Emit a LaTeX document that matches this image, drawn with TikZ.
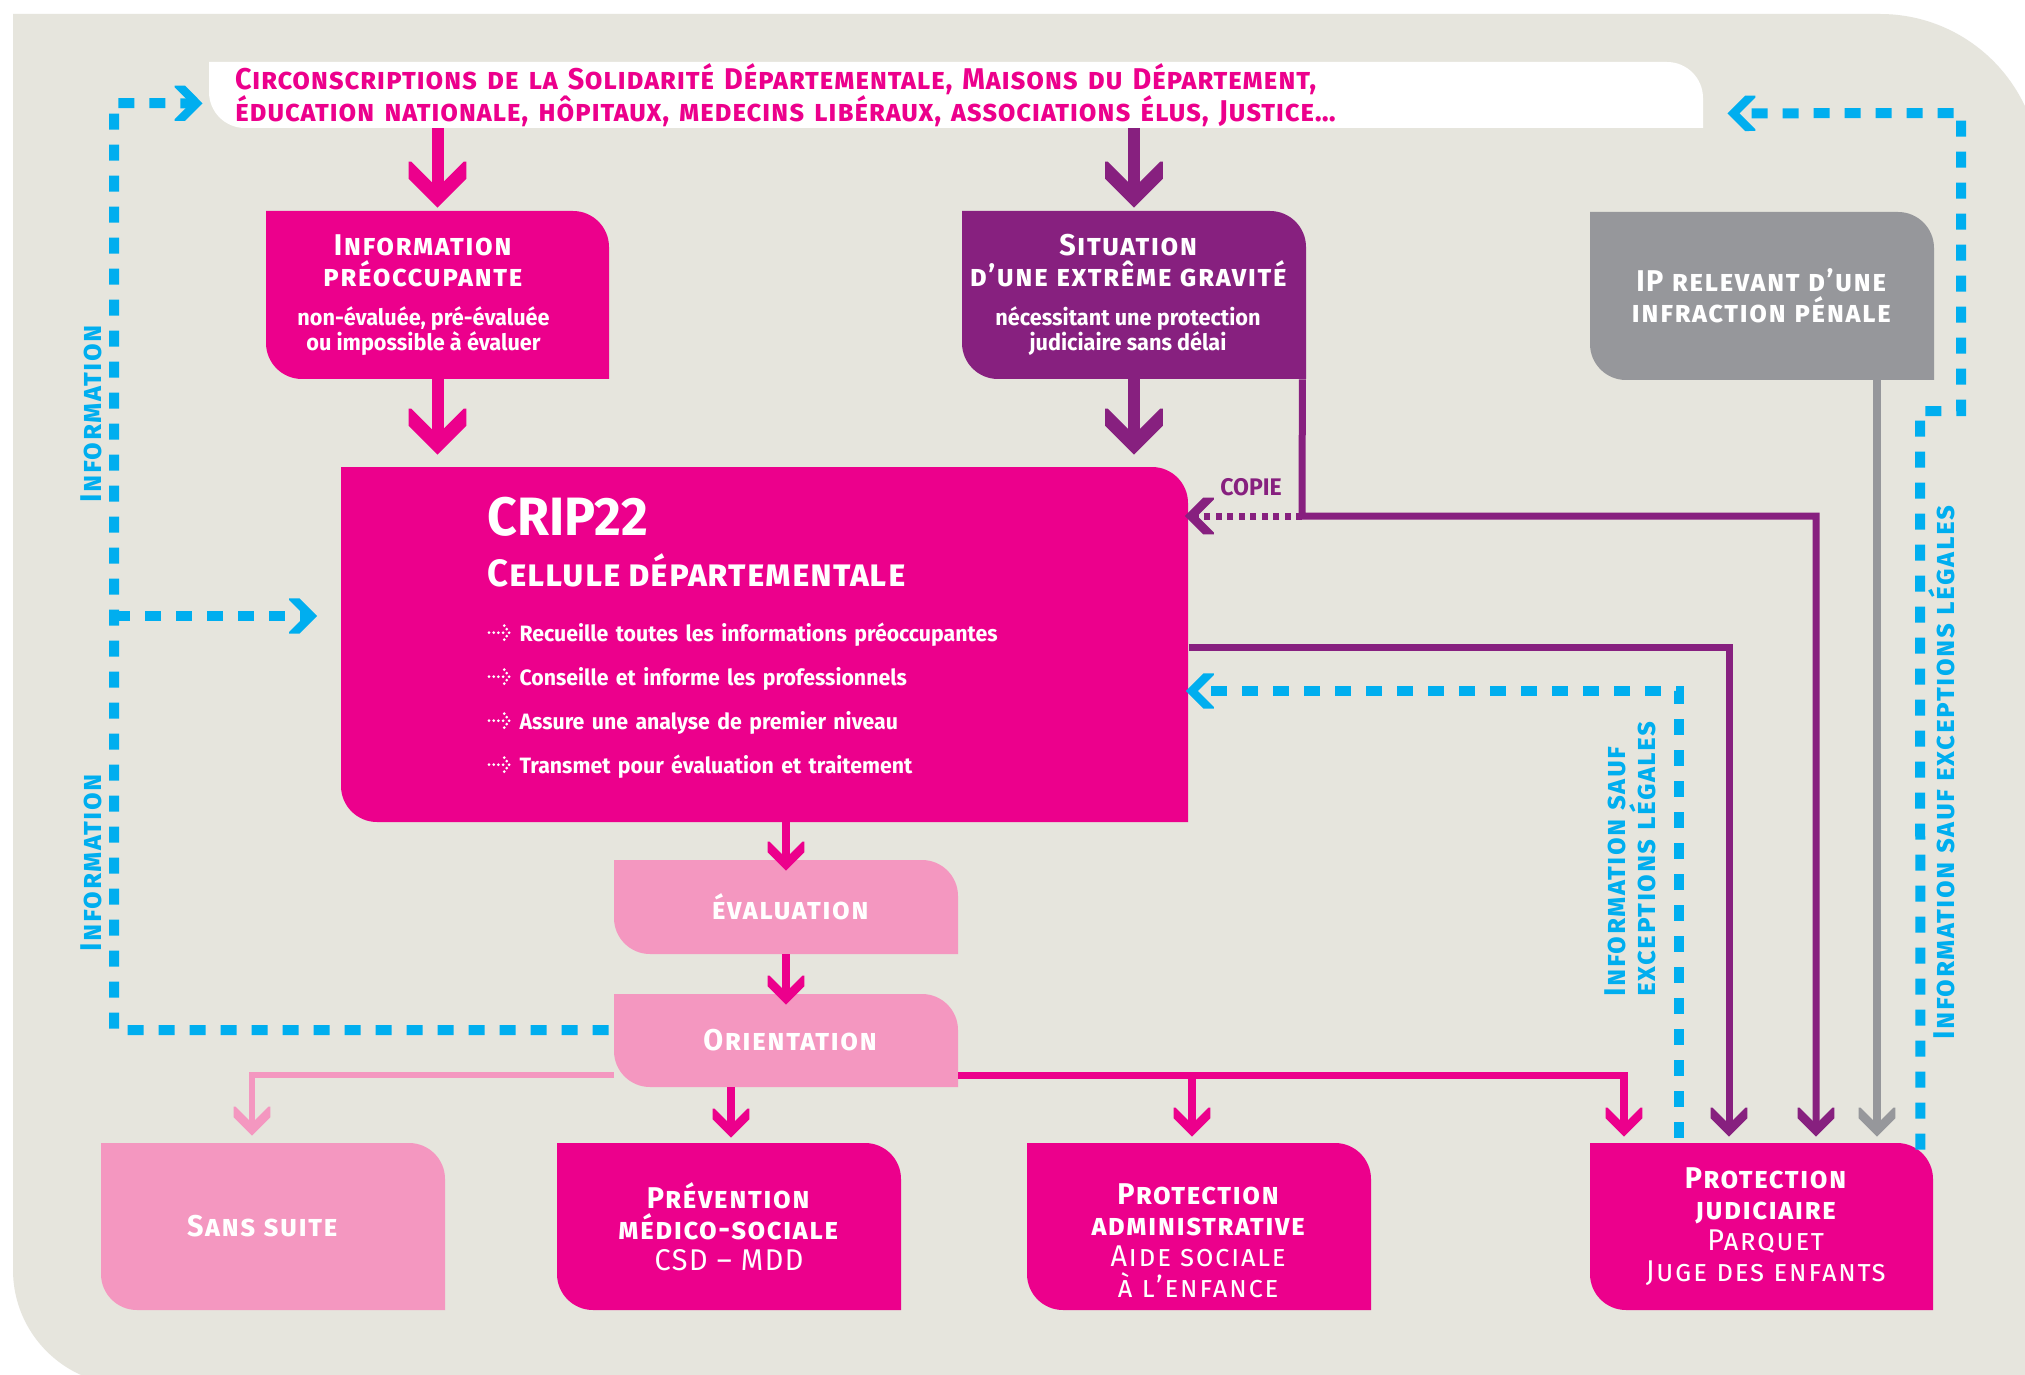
\documentclass[tikz,border=0pt]{standalone}
\usepackage{fontspec}
\setmainfont{Fira Sans}[FakeStretch=0.96]
\newfontfamily\tfont{Fira Sans}[FakeStretch=0.96,LetterSpace=5]
\newfontfamily\bfont{Fira Sans}[FakeStretch=0.96,LetterSpace=2.5]
\usetikzlibrary{arrows.meta,calc}
\definecolor{mag}{HTML}{EC008C}
\definecolor{pur}{HTML}{87207F}
\definecolor{gry}{HTML}{96979B}
\definecolor{lpk}{HTML}{F497C0}
\definecolor{cya}{HTML}{00AEEF}
\definecolor{bgc}{HTML}{E6E5DD}

\pgfdeclarearrow{
  name = Chev,
  parameters = {\the\pgfarrowlength},
  setup code = {
    \pgfarrowssettipend{0pt}
    \pgfarrowssetbackend{-\pgfarrowlength}
    \pgfarrowssetlineend{-.3\pgfarrowlength}
    \pgfarrowsupperhullpoint{-\pgfarrowlength}{.63\pgfarrowlength}
    \pgfarrowsupperhullpoint{-.63\pgfarrowlength}{.63\pgfarrowlength}
    \pgfarrowshullpoint{0pt}{0pt}
    \pgfarrowssavethe\pgfarrowlength
  },
  drawing code = {
    \pgfpathmoveto{\pgfpointorigin}
    \pgfpathlineto{\pgfpoint{-.63\pgfarrowlength}{.63\pgfarrowlength}}
    \pgfpathlineto{\pgfpoint{-\pgfarrowlength}{.63\pgfarrowlength}}
    \pgfpathlineto{\pgfpoint{-\pgfarrowlength}{.57\pgfarrowlength}}
    \pgfpathlineto{\pgfpoint{-.43\pgfarrowlength}{0pt}}
    \pgfpathlineto{\pgfpoint{-\pgfarrowlength}{-.57\pgfarrowlength}}
    \pgfpathlineto{\pgfpoint{-\pgfarrowlength}{-.63\pgfarrowlength}}
    \pgfpathlineto{\pgfpoint{-.63\pgfarrowlength}{-.63\pgfarrowlength}}
    \pgfpathclose
    \pgfusepathqfill
  },
  defaults = {length = 10pt}
}

\newcommand\boxshape[5]{%
  \fill[#5] (#1,#2) -- ({#3-36},#2) arc[start angle=-90,end angle=0,radius=36]
    -- (#3,#4) -- ({#1+36},#4) arc[start angle=90,end angle=180,radius=36] -- cycle;}
\newcommand\cbox[8]{%
  \boxshape{#2}{#3}{#4}{#5}{#6}
  \node[boxnode,#7,minimum width={(#4-#2)*0.5pt},minimum height={(#5-#3)*0.5pt}]
    (#1) at ({(#2+#4)/2},{(#3+#5)/2}) {#8};}
\newcommand\bul{\tikz[x=1pt,y=1pt,baseline=0pt]{%
  \foreach \p in {(0.75,4.5),(3.1,4.5),(5.45,4.5),(7.8,4.5),(8.4,8.0),(9.6,6.25),(10.8,4.5),(9.6,2.75),(8.4,1.0)}
    \fill[white] \p circle[radius=0.75];}\hspace{4.5pt}}
\newcommand\sub[1]{{\fontsize{11.3}{12.5}\selectfont #1}}
\newcommand\lsh[2]{#2\rule{#1}{0pt}}
\newcommand\rsh[2]{\rule{#1}{0pt}#2}

\begin{document}
\begin{tikzpicture}[x=0.5pt,y=-0.5pt,
  boxnode/.style={inner sep=0pt,text=white,align=center,font=\tfont\bfseries\fontsize{15}{15.5}\selectfont},
  bigmag/.style={mag,line width=6pt,-{Chev[length=23pt]}},
  bigpur/.style={pur,line width=6pt,-{Chev[length=23pt]}},
  smallmag/.style={mag,line width=3.8pt,-{Chev[length=14.5pt]}},
  purline/.style={pur,line width=3.5pt,-{Chev[length=14.5pt]}},
  purdot/.style={pur,line width=3.5pt,dash pattern=on 3pt off 2.75pt,-{Chev[length=14.5pt]}},
  grayline/.style={gry,line width=4pt,-{Chev[length=14.5pt]}},
  pinkline/.style={lpk,line width=3pt,-{Chev[length=14.5pt]}},
  cyandash/.style={cya,line width=5pt,dash pattern=on 8pt off 7.5pt,-{Chev[length=14pt]}},
  lab/.style={cya,inner sep=0pt,font=\tfont\bfseries\fontsize{15}{15}\selectfont}]
\useasboundingbox (0,0) rectangle (2025,1375);
\fill[white] (0,0) rectangle (2025,1375);
\fill[bgc] (13,14) -- (1880,14) arc[start angle=-90,end angle=0,radius=160]
  -- (2040,1385) -- (128,1385) arc[start angle=90,end angle=180,radius=115] -- cycle;

% boxes
\cbox{banner}{209}{62}{1703}{128}{white}{text=mag,align=left,text width=721pt,inner xsep=13pt,font=\bfont\bfseries\fontsize{15}{16}\selectfont}
  {\textsc{Circonscriptions de la Solidarité Départementale, Maisons du Département,}\\
   \textsc{éducation nationale, hôpitaux, medecins libéraux, associations élus, Justice…}}
\cbox{info}{266}{211}{609}{379}{mag}{}
  {\lsh{14pt}{\textsc{Information}}\\\lsh{14pt}{\textsc{préoccupante}}\\[4pt]\lsh{14pt}{\sub{\rmfamily non-évaluée, pré-évaluée}}\\[-3pt]\lsh{14pt}{\sub{\rmfamily ou impossible à évaluer}}}
\cbox{sit}{962}{211}{1306}{379}{pur}{}
  {\lsh{5pt}{\textsc{Situation}}\\\lsh{5pt}{\textsc{d’une extrême gravité}}\\[4pt]\lsh{6pt}{\sub{\rmfamily nécessitant une protection}}\\[-3pt]\lsh{6pt}{\sub{\rmfamily judiciaire sans délai}}}
\cbox{ip}{1590}{212}{1934}{380}{gry}{}
  {\textsc{IP relevant d’une}\\\textsc{infraction pénale}}
\cbox{crip}{341}{467}{1188}{822}{mag}{align=left,text width=277pt,inner xsep=73.5pt,font=\rmfamily\bfseries\fontsize{11.1}{22}\selectfont}
  {{\fontsize{27}{27}\selectfont CRIP22}\\[3.5pt]
   {\bfont\fontsize{19}{19}\selectfont\textsc{Cellule départementale}}\\[5.5pt]
   \bul Recueille toutes les informations préoccupantes\\
   \bul Conseille et informe les professionnels\\
   \bul Assure une analyse de premier niveau\\
   \bul Transmet pour évaluation et traitement\rule[-9pt]{0pt}{1pt}}
\cbox{eval}{614}{860}{958}{954}{lpk}{}{\rsh{5pt}{\textsc{évaluation}}}
\cbox{orient}{614}{994}{958}{1087}{lpk}{}{\rsh{5pt}{\textsc{Orientation}}}
\cbox{ss}{101}{1143}{445}{1310}{lpk}{}{\lsh{10pt}{\textsc{Sans suite}}}
\cbox{prev}{557}{1143}{901}{1310}{mag}{}
  {\textsc{Prévention}\\\textsc{médico-sociale}\\{\mdseries CSD – MDD}}
\cbox{pa}{1027}{1143}{1371}{1310}{mag}{}
  {\rule{0pt}{25pt}\textsc{Protection}\\\textsc{administrative}\\{\mdseries\textsc{Aide sociale}}\\{\mdseries\textsc{à l’enfance}}}
\cbox{pj}{1590}{1143}{1933}{1310}{mag}{}
  {\rsh{5pt}{\textsc{Protection}}\\\rsh{5pt}{\textsc{judiciaire}}\\\rsh{5pt}{\mdseries\textsc{Parquet}}\\\rsh{5pt}{\mdseries\textsc{Juge des enfants}}}

% labels
\node[lab,rotate=90,anchor=base] (inf1) at (101,413) {\textsc{Information}};
\node[lab,rotate=90,anchor=base] (inf2) at (101,862) {\textsc{Information}};
\node[lab,rotate=90,anchor=south west,align=left] (inf3) at (1656,997) {\textsc{Information sauf}\\\textsc{exceptions légales}};
\node[lab,rotate=90,anchor=base] (inf4) at (1954,772) {\textsc{Information sauf exceptions légales}};
\node[pur,inner sep=0pt,anchor=base,font=\bfseries\fontsize{12}{12}\selectfont] (copie) at (1251,495) {COPIE};

% coordinates
\coordinate (cp) at (1302,516);
\coordinate (r1) at (1920,411);
\coordinate (r2) at (1961,411);
\coordinate (r3) at (1961,113);
\coordinate (l1) at (114,1030);
\coordinate (l2) at (114,103);
\coordinate (l3) at (114,616);
\coordinate (br) at (1192,1075.5);

% connectors
\draw[bigmag,shorten >=1.5pt] (info.north |- banner.south) -- (info.north);
\draw[bigmag,shorten >=6pt] (info.south) -- (info.south |- crip.north);
\draw[bigpur,shorten >=1.5pt] (sit.north |- banner.south) -- (sit.north);
\draw[bigpur,shorten >=6pt] (sit.south) -- (sit.south |- crip.north);

\draw[purline,shorten >=3pt] ([xshift=-2pt]sit.south east) -- (cp) -| ([xshift=27.25pt]pj.north);
\draw[purdot,shorten >=-2pt] (cp) -- (cp -| crip.east);
\draw[purline,shorten >=3pt] ([yshift=-1.25pt]crip.east) -| ([xshift=-16.25pt]pj.north);
\draw[cyandash,shorten >=-1.5pt] ([xshift=-41.25pt,yshift=2.5pt]pj.north) |- ([yshift=-23.25pt]crip.east);
\draw[grayline,shorten >=3pt] ([xshift=57.5pt]ip.south) -- ([xshift=57.75pt]pj.north);
\draw[cyandash] ([xshift=-6.5pt,yshift=-3.5pt]pj.north east) -- (r1) -- (r2) -- (r3) -- ([xshift=12pt,yshift=7.5pt]banner.south east);

\draw[cyandash] ([xshift=-2.5pt,yshift=5.25pt]orient.west) -- (l1) -- (l2) -- ([xshift=-3pt,yshift=12.5pt]banner.south west);
\draw[cyandash] (l3) -- ([xshift=-11.5pt,yshift=14.25pt]crip.west);

\draw[smallmag,shorten >=-5.5pt] (eval.north |- crip.south) -- (eval.north);
\draw[smallmag,shorten >=-5.5pt] (eval.south) -- (orient.north);
\draw[pinkline,shorten >=3.5pt] ([yshift=-17.25pt]orient.west) -| ([xshift=-10.5pt]ss.north);
\draw[smallmag,shorten >=2.5pt] ([xshift=-27.5pt]orient.south) -- ([xshift=1pt]prev.north);
\draw[smallmag,shorten >=3pt] ([yshift=-17.5pt]orient.east) -| ([xshift=-68.75pt]pj.north);
\draw[smallmag,shorten >=3pt] (br) -- ([xshift=-3.5pt]pa.north);
\end{tikzpicture}
\end{document}
